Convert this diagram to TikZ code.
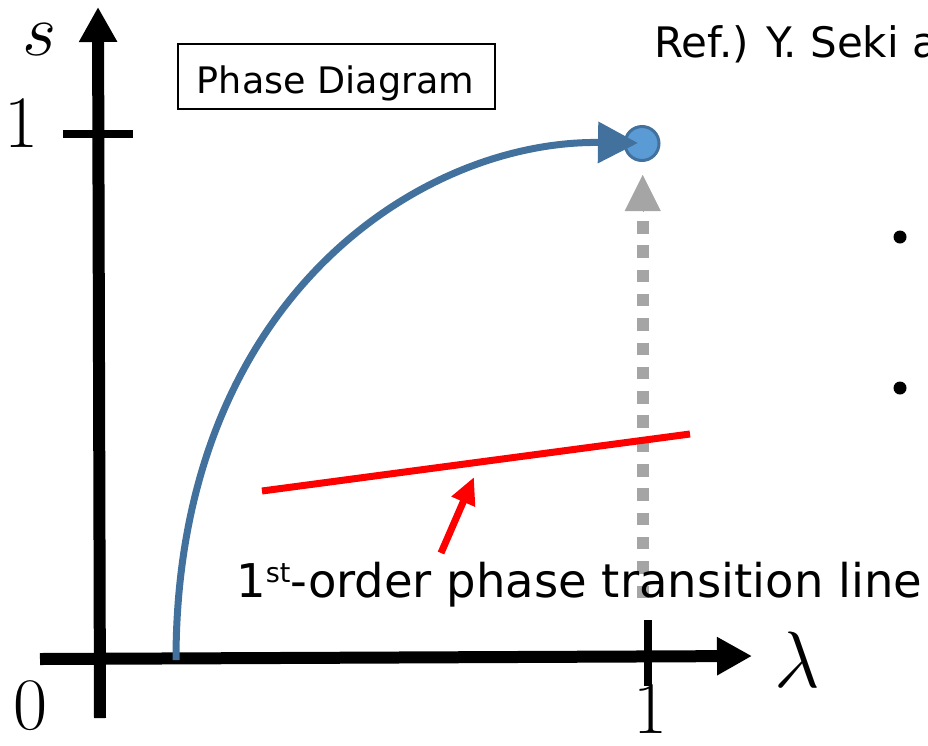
\RequirePackage{fix-cm}
\documentclass[tikz,border=0pt]{standalone}
\usepackage{fontspec}
\newfontfamily\gothic{DejaVu Sans}
\usetikzlibrary{arrows.meta}
\definecolor{curveblue}{HTML}{41719C}
\definecolor{dotblue}{HTML}{5B9BD5}
\definecolor{dotgray}{HTML}{A5A5A5}
\tikzset{
  axis/.style={line width=12pt, -{Triangle[length=35pt,width=36pt]}},
  tick/.style={line width=8pt},
  mathlbl/.style={inner sep=0pt, font=\fontsize{74}{80}\selectfont},
  txt/.style={inner sep=0pt, anchor=base west},
}
\begin{document}
\begin{tikzpicture}[x=1pt,y=-1pt]
\useasboundingbox (0,0) rectangle (928,745);
% axes
\coordinate (xs) at (40,659);
\coordinate (xe) at (752,656);
\coordinate (ys) at (100,718);
\coordinate (ye) at (98,7);
\draw[axis] (xs) -- (xe);
\draw[axis] (ys) -- (ye);
% ticks
\coordinate (t1a) at (63,133.5); \coordinate (t1b) at (133,133.5);
\draw[tick] (t1a) -- (t1b);
\coordinate (t2a) at (648,620); \coordinate (t2b) at (648,686);
\draw[tick] (t2a) -- (t2b);
% math labels
\node[mathlbl] (s) at (40,40) {$s$};
\node[mathlbl] (one1) at (21,124) {$1$};
\node[mathlbl] (zero) at (30,706) {$0$};
\node[mathlbl] (one2) at (650,710) {$1$};
\node[mathlbl, font=\fontsize{80}{90}\selectfont] (lam) at (797,660) {$\lambda$};
% phase diagram box
\node[draw, line width=1.8pt, minimum width=317pt, minimum height=65pt, inner sep=0pt] (pd) at (336.5,76.5) {};
\node[txt, anchor=base, font=\gothic\fontsize{36.5}{40}\selectfont] (pdt) at (335.5,93) {Phase Diagram};
% ref text
\node[txt, font=\gothic\fontsize{42}{46}\selectfont] (ref) at (654,57) {Ref.) Y. Seki a};
% bullets
\node[circle, fill=black, minimum size=13pt, inner sep=0pt] (b1) at (900,237) {};
\node[circle, fill=black, minimum size=13pt, inner sep=0pt] (b2) at (900,388) {};
% endpoint dot
\node[circle, draw=curveblue, fill=dotblue, line width=3pt, minimum size=34pt, inner sep=0pt] (end) at (642,143.5) {};
% gray dotted arrow
\coordinate (gs) at (642.7,221);
\coordinate (ge) at (642.7,598);
\draw[dotgray, line width=12pt, dash pattern=on 12.5pt off 11.8pt] (gs) -- (ge);
\coordinate (gb) at (642.7,211);
\coordinate (gt) at (642.7,175);
\draw[dotgray, line width=0.1pt, -{Triangle[length=36pt,width=36pt]}] (gb) -- (gt);
% blue curve
\coordinate (cs) at (176,660);
\coordinate (ce) at (638,143);
\draw[curveblue, line width=7pt, -{Triangle[length=40pt,width=40pt]}]
  (cs) .. controls (176,300) and (420,140) .. (ce);
% red line
\coordinate (ra) at (262,491);
\coordinate (rb) at (690,434);
\draw[red, line width=7pt] (ra) -- (rb);
\coordinate (rs) at (441,553);
\coordinate (rt) at (474,477);
\draw[red, line width=7pt, -{Triangle[length=27pt,width=24pt]}] (rs) -- (rt);
% label
\node[txt, font=\gothic\fontsize{46.5}{50}\selectfont] (lbl) at (236,597) {1\raisebox{15pt}{\fontsize{27}{30}\selectfont st}-order phase transition line};
\end{tikzpicture}
\end{document}
